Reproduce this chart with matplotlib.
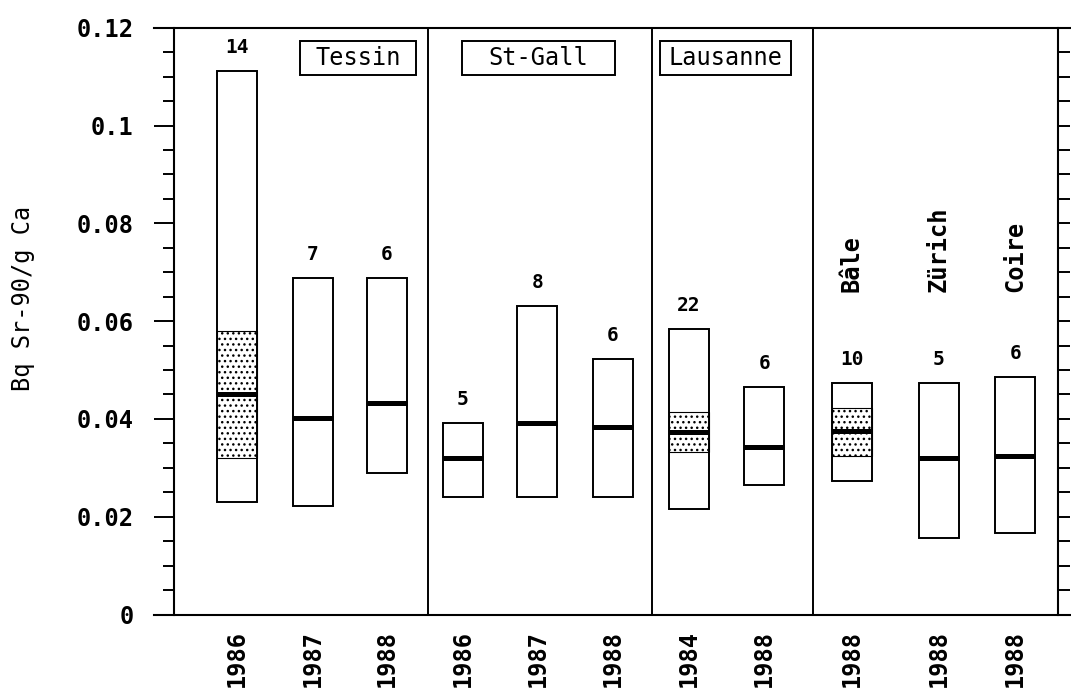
import matplotlib
matplotlib.use('Agg')
import matplotlib.pyplot as plt
from matplotlib.patches import Rectangle
from matplotlib.ticker import MultipleLocator

plt.rcParams['font.family'] = ['DejaVu Sans Mono', 'DejaVu Sans']

# data
years = ['1986', '1987', '1988', '1986', '1987', '1988', '1984', '1988', '1988', '1988', '1988']
counts = [14, 7, 6, 5, 8, 6, 22, 6, 10, 5, 6]
box_max = [0.1112, 0.0688, 0.0688, 0.0391, 0.0631, 0.0522, 0.0583, 0.0466, 0.0474, 0.0474, 0.0485]
box_min = [0.0231, 0.0221, 0.0290, 0.0241, 0.0241, 0.0241, 0.0215, 0.0265, 0.0273, 0.0156, 0.0167]
medians = [0.0450, 0.0401, 0.0432, 0.0321, 0.0392, 0.0384, 0.0373, 0.0343, 0.0376, 0.0321, 0.0324]
# dotted band (only for some of the series)
band_low = [0.0320, None, None, None, None, None, 0.0332, None, 0.0324, None, None]
band_high = [0.0580, None, None, None, None, None, 0.0415, None, 0.0423, None, None]
regions = ['Tessin', 'St-Gall', 'Lausanne']
towns = ['Bâle', 'Zürich', 'Coire']

# layout
positions = [0.83, 1.83, 2.81, 3.81, 4.80, 5.80, 6.80, 7.80, 8.96, 10.11, 11.12]
separators = [3.35, 6.32, 8.44]
box_w = 0.53
region_boxes = [(1.66, 3.20), (3.80, 5.83), (6.42, 8.16)]
town_idx = [8, 9, 10]

fig = plt.figure(figsize=(10.71, 6.89), dpi=100)
ax = fig.add_axes([0.1629, 0.1081, 0.8253, 0.8517])
ax.set_xlim(0, 11.69)
ax.set_ylim(0, 0.12)

for i, x in enumerate(positions):
    if band_low[i] is not None:
        ax.add_patch(Rectangle((x - box_w / 2, band_low[i]), box_w, band_high[i] - band_low[i],
                               facecolor='white', edgecolor='black', hatch='...', lw=0.8, zorder=2))
    ax.add_patch(Rectangle((x - box_w / 2, box_min[i]), box_w, box_max[i] - box_min[i],
                           facecolor='none', edgecolor='black', lw=1.4, zorder=3))
    ax.plot([x - box_w / 2, x + box_w / 2], [medians[i], medians[i]], color='black', lw=3.6,
            solid_capstyle='butt', zorder=4)
    ax.text(x, box_max[i] + 0.0048, str(counts[i]), ha='center', va='center',
            fontsize=14, fontweight='bold')

for s in separators:
    ax.axvline(s, color='black', lw=1.4)

for name, (x0, x1) in zip(regions, region_boxes):
    ax.add_patch(Rectangle((x0, 0.1103), x1 - x0, 0.0070, facecolor='white',
                           edgecolor='black', lw=1.4, zorder=3))
    ax.text((x0 + x1) / 2, 0.1138, name, ha='center', va='center', fontsize=17, zorder=4)

for name, i in zip(towns, town_idx):
    ax.text(positions[i], 0.066, name, rotation=90, ha='center', va='bottom',
            fontsize=17, fontweight='bold')

# axes frame
for sp in ['top', 'bottom']:
    ax.spines[sp].set_visible(False)
ax.spines['left'].set_linewidth(1.5)
ax.spines['right'].set_linewidth(1.5)
for yy in [0, 1]:
    ax.plot([-0.0232, 1.0144], [yy, yy], transform=ax.transAxes, color='black',
            lw=1.5, clip_on=False)

ax.yaxis.set_major_locator(MultipleLocator(0.02))
ax.yaxis.set_minor_locator(MultipleLocator(0.005))
ax.set_yticks([0, 0.02, 0.04, 0.06, 0.08, 0.1, 0.12])
ax.set_yticklabels(['0', '0.02', '0.04', '0.06', '0.08', '0.1', '0.12'])
ax.tick_params(axis='y', which='major', length=14.4, width=1.4, pad=15,
               labelsize=17, right=False)
ax.tick_params(axis='y', which='minor', length=7.7, width=1.4, right=False)
for lab in ax.get_yticklabels():
    lab.set_fontweight('bold')

ax.set_xticks(positions)
ax.set_xticklabels(years, rotation=90, fontsize=17, fontweight='bold')
ax.tick_params(axis='x', length=0, pad=11)

ax2 = ax.twinx()
ax2.set_ylim(0, 0.12)
ax2.set_yticks([k * 0.005 for k in range(1, 24)])
ax2.tick_params(axis='y', length=8.6, width=1.4, labelright=False)
for sp in ax2.spines.values():
    sp.set_visible(False)

fig.text(23 / 1071, 1 - 298.5 / 689, 'Bq Sr-90/g Ca', rotation=90, ha='center',
         va='center', fontsize=17)

fig.savefig('out.png', dpi=100)
